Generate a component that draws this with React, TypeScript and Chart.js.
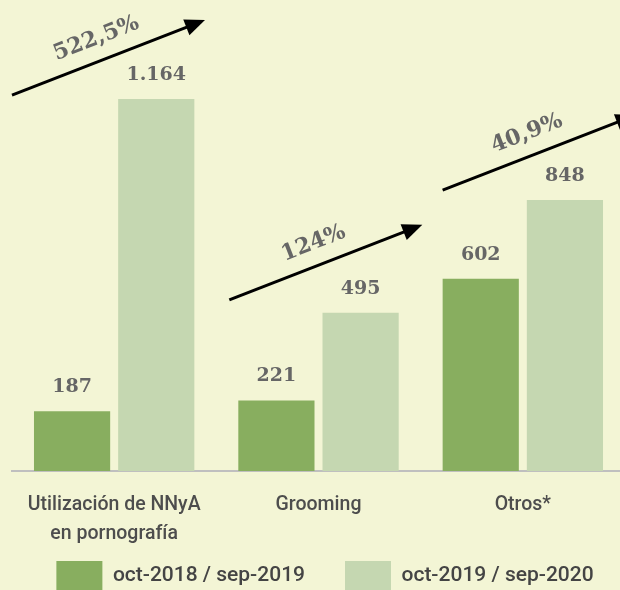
import { useEffect, useRef } from "react";
import { Chart, registerables } from "chart.js";

Chart.register(...registerables);

const categories: (string | string[])[] = [["Utilización de NNyA", "en pornografía"], "Grooming", "Otros*"];
const seriesLabels = ["oct-2018 / sep-2019", "oct-2019 / sep-2020"];
const period1 = [187, 221, 602];
const period2 = [1164, 495, 848];

const BG = "#F3F5D5";
const DARK = "#88AE5F";
const LIGHT = "#C5D7B1";
const VALUE_COLOR = "#666666";

const fmtInt = (v: number) => String(v).replace(/\B(?=(\d{3})+(?!\d))/g, ".");
const fmtPct = (a: number, b: number) => {
  let s = ((b / a - 1) * 100).toFixed(1).replace(".", ",");
  if (s.endsWith(",0")) s = s.slice(0, -2);
  return s + "%";
};

const unclipPlugin = {
  id: "unclip",
  afterLayout(chart: any) {
    chart.scales.x.bottom = chart.height;
  },
};

const annotPlugin = {
  id: "annot",
  afterDatasetsDraw(chart: any) {
    const ctx: CanvasRenderingContext2D = chart.ctx;
    const m0 = chart.getDatasetMeta(0);
    const m1 = chart.getDatasetMeta(1);
    ctx.save();
    ctx.font = "bold 19px 'DejaVu Serif'";
    ctx.fillStyle = VALUE_COLOR;
    ctx.textAlign = "center";
    ctx.textBaseline = "middle";
    [m0, m1].forEach((m: any, di: number) =>
      m.data.forEach((bar: any, i: number) => {
        const v = chart.data.datasets[di].data[i];
        ctx.fillText(fmtInt(v), bar.x, bar.y - 24);
      })
    );
    const shiftX = [-22, -9, 0];
    const shiftY = [-4, -13, -10];
    const dx = 193;
    const dy = -75;
    const ang = Math.atan2(dy, dx);
    const ca = Math.cos(ang);
    const sa = Math.sin(ang);
    m0.data.forEach((bar: any, i: number) => {
      const b1 = m1.data[i];
      const x0 = bar.x - bar.width / 2 + shiftX[i];
      const y0 = b1.y + shiftY[i];
      const x1 = x0 + dx;
      const y1 = y0 + dy;
      const head = 20;
      const hw = 8.5;
      ctx.strokeStyle = "#000";
      ctx.lineWidth = 3;
      ctx.beginPath();
      ctx.moveTo(x0, y0);
      ctx.lineTo(x1 - ca * head * 0.8, y1 - sa * head * 0.8);
      ctx.stroke();
      ctx.fillStyle = "#000";
      ctx.save();
      ctx.translate(x1, y1);
      ctx.rotate(ang);
      ctx.beginPath();
      ctx.moveTo(0, 0);
      ctx.lineTo(-head, -hw);
      ctx.lineTo(-head, hw);
      ctx.closePath();
      ctx.fill();
      ctx.restore();
      const along = 99;
      const perp = 22;
      const cx = x0 + ca * along + sa * perp;
      const cy = y0 + sa * along - ca * perp;
      ctx.save();
      ctx.translate(cx, cy);
      ctx.rotate(ang);
      ctx.font = "bold 22px 'DejaVu Serif'";
      ctx.fillStyle = VALUE_COLOR;
      ctx.textAlign = "center";
      ctx.textBaseline = "middle";
      ctx.fillText(fmtPct(period1[i], period2[i]), 0, 0);
      ctx.restore();
    });
    ctx.restore();
  },
};

export default function App() {
  const ref = useRef<HTMLCanvasElement | null>(null);
  useEffect(() => {
    if (!ref.current) return;
    const chart = new Chart(ref.current, {
      type: "bar",
      data: {
        labels: categories,
        datasets: [
          { label: seriesLabels[0], data: period1, backgroundColor: DARK, barPercentage: 0.905, categoryPercentage: 0.824 },
          { label: seriesLabels[1], data: period2, backgroundColor: LIGHT, barPercentage: 0.905, categoryPercentage: 0.824 },
        ],
      },
      options: {
        animation: false,
        responsive: false,
        layout: { padding: 0 },
        plugins: {
          legend: {
            position: "bottom",
            labels: {
              boxWidth: 46,
              boxHeight: 30,
              padding: 40,
              color: "#444444",
              font: { family: "Roboto", size: 21, weight: "500" },
            },
          },
          tooltip: { enabled: false },
        },
        scales: {
          x: {
            grid: { display: false, drawTicks: false },
            border: { display: true, color: "#BFBFBF", width: 2 },
            ticks: {
              color: "#4D4D4D",
              font: { family: "Roboto", size: 19.5, weight: "500", lineHeight: 1.5 },
              padding: 19,
              maxRotation: 0,
              autoSkip: false,
            },
            afterFit: (s: any) => {
              s.height = 50;
            },
          },
          y: {
            display: true,
            min: 0,
            max: 1474,
            grid: { display: false, drawTicks: false },
            border: { display: false },
            ticks: { display: false },
            afterFit: (s: any) => {
              s.width = 12;
            },
          },
          yRight: {
            type: "linear",
            position: "right",
            display: true,
            grid: { display: false, drawTicks: false },
            border: { display: false },
            ticks: { display: false },
            afterFit: (s: any) => {
              s.width = 25;
            },
          },
        },
      },
      plugins: [unclipPlugin, annotPlugin],
    } as any);
    return () => chart.destroy();
  }, []);
  return (
    <div style={{ position: "fixed", left: 0, top: 0, width: 620, height: 590, overflow: "hidden", background: BG }}>
      <canvas ref={ref} width={650} height={601} style={{ display: "block" }} />
    </div>
  );
}
